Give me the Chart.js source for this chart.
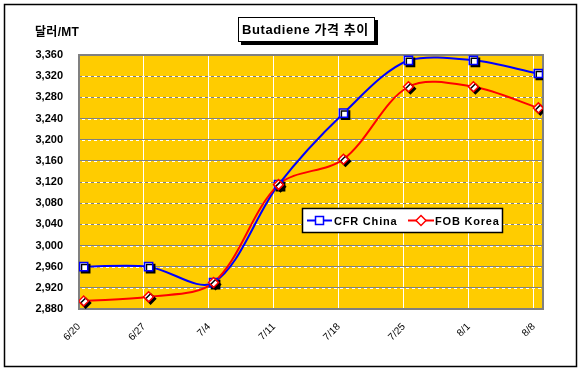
<!DOCTYPE html>
<html><head><meta charset="utf-8">
<script src="https://cdn.jsdelivr.net/npm/chart.js@4/dist/chart.umd.min.js"></script>
<style>html,body{margin:0;padding:0;background:#fff}#wrap{width:582px;height:371px}</style>
</head><body><div id="wrap"><canvas id="c" width="582" height="371"></canvas></div>
<script>
const dates = ['6/20','6/27','7/4','7/11','7/18','7/25','8/1','8/8'];
const cfrChina = [2960,2960,2930,3115,3250,3350,3350,3325];
const fobKorea = [2895,2903,2930,3115,3163,3300,3300,3260];
const yMin = 2880, yMax = 3360, yStep = 40;
const chartTitle = 'Butadiene 가격 추이';
const yTitle = '달러/MT';
const seriesNames = ['CFR China','FOB Korea'];

const FONT = '"Liberation Sans", Arial, "Noto Sans CJK KR", sans-serif';
const toXY = arr => arr.map((v,i)=>({x: i*7 + 0.5, y: v}));

const bgPlugin = {
  id:'bg',
  beforeDraw(chart){
    const {ctx, chartArea:a} = chart;
    ctx.save();
    ctx.fillStyle='#fff'; ctx.fillRect(0,0,chart.width,chart.height);
    ctx.strokeStyle='#000'; ctx.lineWidth=1.5;
    ctx.strokeRect(4.5,4.5,572,362);
    ctx.fillStyle='#FFCC00';
    ctx.fillRect(a.left,a.top,a.right-a.left,a.bottom-a.top);
    ctx.restore();
  },
  beforeDatasetsDraw(chart){
    const {ctx, chartArea:a} = chart;
    const ys = chart.scales.y;
    ctx.save();
    ctx.strokeStyle='#fff'; ctx.lineWidth=1; ctx.setLineDash([3,3]); ctx.lineDashOffset=3;
    ys.ticks.forEach(t=>{
      const y = Math.round(ys.getPixelForValue(t.value))+0.5;
      ctx.beginPath(); ctx.moveTo(a.left,y); ctx.lineTo(a.right,y); ctx.stroke();
    });
    ctx.setLineDash([]);
    ctx.strokeStyle='#808080'; ctx.lineWidth=2;
    ctx.strokeRect(a.left, a.top, a.right-a.left, a.bottom-a.top);
    ctx.restore();
  },
  beforeDatasetDraw(chart, args){
    if (args.index >= 2){
      chart.ctx.save();
      chart.ctx.shadowColor='#000';
      chart.ctx.shadowOffsetX=2; chart.ctx.shadowOffsetY=2; chart.ctx.shadowBlur=0;
    }
  },
  afterDatasetDraw(chart, args){
    if (args.index >= 2) chart.ctx.restore();
  },
  afterDraw(chart){
    const ctx = chart.ctx;
    ctx.save();
    const bx=238, by=17, bw=137, bh=25;
    ctx.fillStyle='#000'; ctx.fillRect(bx+3,by+3,bw,bh);
    ctx.fillStyle='#fff'; ctx.fillRect(bx,by,bw,bh);
    ctx.strokeStyle='#000'; ctx.lineWidth=1; ctx.strokeRect(bx+0.5,by+0.5,bw-1,bh-1);
    ctx.fillStyle='#000'; ctx.font='bold 13px '+FONT; ctx.textAlign='left'; ctx.textBaseline='middle';
    ctx.letterSpacing='0.6px';
    ctx.fillText(chartTitle, 242, by+bh/2+1);
    ctx.font='bold 12px '+FONT; ctx.letterSpacing='0.3px';
    ctx.fillText(yTitle, 35, 33);
    const lx=302, ly=208, lw=201, lh=25;
    ctx.fillStyle='#fff'; ctx.fillRect(lx,ly,lw,lh);
    ctx.strokeStyle='#000'; ctx.lineWidth=1.5; ctx.strokeRect(lx+0.5,ly+0.5,lw-1,lh-1);
    const cy = ly+lh/2;
    const items = [
      {x1:307,x2:332,tx:334,color:'#0000FF',shape:'sq',label:seriesNames[0]},
      {x1:408,x2:434,tx:435,color:'#FF0000',shape:'dm',label:seriesNames[1]}
    ];
    items.forEach(it=>{
      ctx.strokeStyle=it.color; ctx.lineWidth=2;
      ctx.beginPath(); ctx.moveTo(it.x1,cy); ctx.lineTo(it.x2,cy); ctx.stroke();
      const cx=(it.x1+it.x2)/2;
      ctx.fillStyle='#fff'; ctx.lineWidth=1.5;
      ctx.beginPath();
      if(it.shape==='sq'){ ctx.rect(cx-4,cy-4,8,8); }
      else { ctx.moveTo(cx,cy-5); ctx.lineTo(cx+5,cy); ctx.lineTo(cx,cy+5); ctx.lineTo(cx-5,cy); ctx.closePath(); }
      ctx.fill(); ctx.stroke();
      ctx.fillStyle='#000'; ctx.font='bold 11px '+FONT; ctx.letterSpacing='0.8px';
      ctx.textAlign='left'; ctx.textBaseline='middle';
      ctx.fillText(it.label, it.tx, cy+1);
    });
    ctx.restore();
  }
};

new Chart(document.getElementById('c'), {
  type:'line',
  data:{
    datasets:[
      {label:seriesNames[0], data:toXY(cfrChina), borderColor:'#0000FF', borderWidth:2, pointRadius:0, tension:0.33, fill:false, order:4},
      {label:seriesNames[1], data:toXY(fobKorea), borderColor:'#FF0000', borderWidth:2, pointRadius:0, tension:0.33, fill:false, order:3},
      {label:seriesNames[0], data:toXY(cfrChina), showLine:false, pointStyle:'rect', pointRadius:5.8, pointBorderWidth:1.5, pointBackgroundColor:'#fff', pointBorderColor:'#0000FF', order:2},
      {label:seriesNames[1], data:toXY(fobKorea), showLine:false, pointStyle:'rectRot', pointRadius:5, pointBorderWidth:1.5, pointBackgroundColor:'#fff', pointBorderColor:'#FF0000', order:1}
    ]
  },
  options:{
    responsive:false, animation:false, devicePixelRatio:1,
    layout:{padding:{top:55,right:39,left:0,bottom:0}},
    plugins:{legend:{display:false}, tooltip:{enabled:false}, title:{display:false}},
    scales:{
      x:{
        type:'linear', min:0, max:50,
        afterBuildTicks(s){ s.ticks = dates.map((d,i)=>({value:i*7})); },
        afterFit(s){ s.height = 62; },
        grid:{color:'#fff', lineWidth:1, borderDash:[3,2], drawTicks:false},
        border:{display:false},
        ticks:{minRotation:45, maxRotation:45, padding:12, color:'#000', font:{family:FONT, size:10},
          callback:(v)=>dates[Math.round(v/7)]}
      },
      y:{
        min:yMin, max:yMax,
        afterFit(s){ s.width = 79; },
        grid:{color:'#808080', lineWidth:1, borderDash:[3,3], drawTicks:false},
        border:{display:false},
        ticks:{stepSize:yStep, padding:16, color:'#000', font:{family:FONT, size:11, weight:'bold'},
          callback:(v)=>v.toLocaleString('en-US')}
      }
    }
  },
  plugins:[bgPlugin]
});
</script>
</body></html>
